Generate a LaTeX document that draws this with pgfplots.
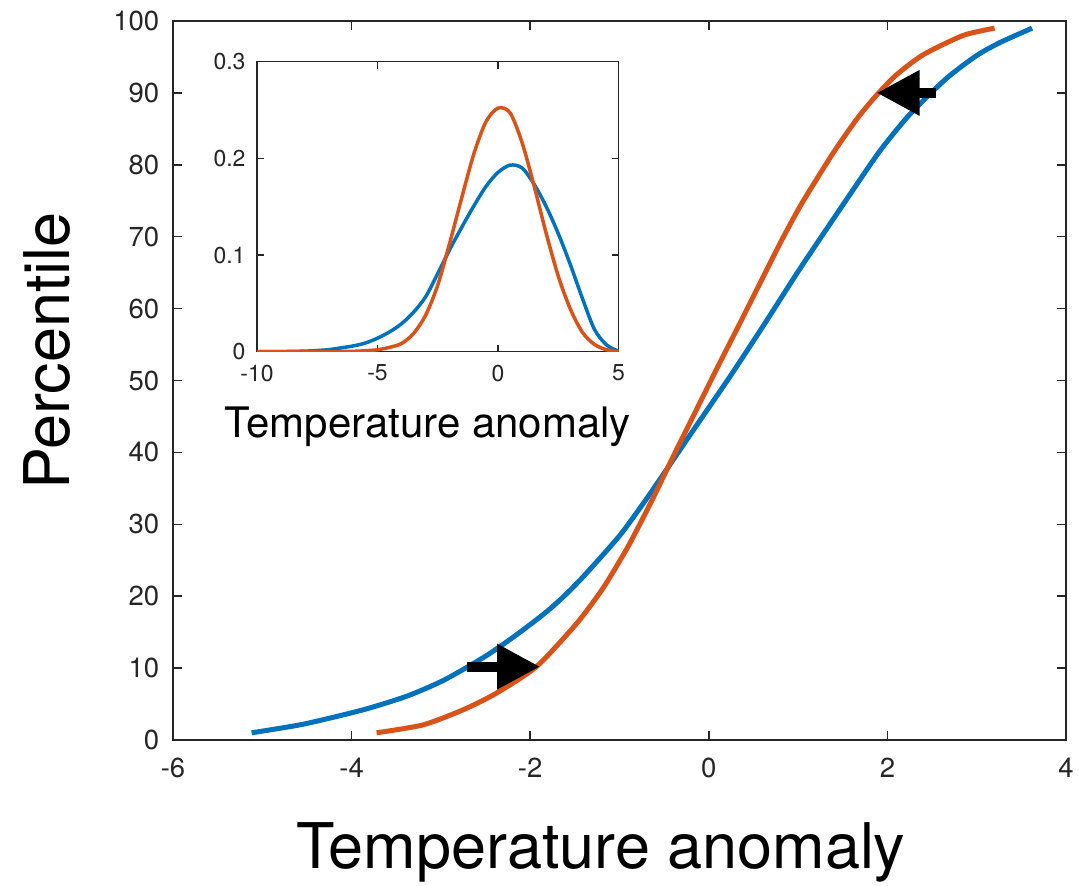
\documentclass[border=0pt]{standalone}
\usepackage{fontspec}
\setmainfont{TeX Gyre Heros}
\usepackage{pgfplots}
\pgfplotsset{compat=1.18}
\usetikzlibrary{arrows.meta}
\definecolor{mblue}{rgb}{0,0.447,0.741}
\definecolor{morange}{rgb}{0.85,0.325,0.098}
\definecolor{axgray}{rgb}{0.15,0.15,0.15}
\begin{document}
\begin{tikzpicture}
\useasboundingbox (-86.5pt,-73pt) rectangle (453pt,370pt);
\begin{axis}[
  at={(0pt,0pt)}, anchor=south west,
  scale only axis, width=446.5pt, height=359.5pt,
  xmin=-6, xmax=4, ymin=0, ymax=100,
  xtick={-6,-4,-2,0,2,4}, ytick={0,10,20,30,40,50,60,70,80,90,100},
  axis line style={axgray, line width=0.75pt},
  tick style={axgray, line width=0.75pt},
  major tick length=4.5pt,
  tick align=inside,
  /pgf/number format/assume math mode=true,
  ticklabel style={font=\fontsize{13.75}{16}\selectfont, text=axgray},
  xticklabel style={yshift=-5.5pt},
  yticklabel style={xshift=-3.4pt},
  xlabel={Temperature anomaly},
  ylabel={Percentile},
  label style={font=\fontsize{31.5}{36}\selectfont},
  xlabel style={at={(axis description cs:0.479,-0.156)}, anchor=center},
  ylabel style={at={(axis description cs:-0.141,0.541)}, anchor=center, rotate=0},
]
\addplot[mblue, line width=2.5pt, smooth, tension=0.4] coordinates {
(-5.12,1.0) (-4.54,2.2) (-3.87,4.2) (-3.38,6.1) (-2.97,8.3) (-2.52,11.5)
(-2.19,14.3) (-1.85,17.5) (-1.63,19.9) (-1.40,22.8) (-1.00,28.4) (-0.70,33.5)
(-0.43,38.4) (-0.14,43.7) (0.24,50.6) (0.61,57.6) (0.95,64.2) (1.12,67.4)
(1.56,75.5) (1.92,82.0) (2.25,87.0) (2.66,92.0) (3.00,95.2) (3.26,97.0) (3.62,99.0)
};
\addplot[morange, line width=2.5pt, smooth, tension=0.4] coordinates {
(-3.72,1.0) (-3.20,2.1) (-2.75,4.2) (-2.38,6.5) (-1.93,10.2) (-1.48,16.2)
(-1.18,21.2) (-0.90,27.0) (-0.65,33.0) (-0.40,39.4) (-0.14,45.9) (0.10,51.9)
(0.35,58.0) (0.60,64.2) (0.82,69.6) (1.04,74.6) (1.39,81.6) (1.66,86.4)
(1.88,89.7) (2.10,92.5) (2.40,95.3) (2.85,98.0) (3.20,99.0)
};
\draw[black, line width=5pt, -{Triangle[length=21.5pt,width=21.5pt]}] (axis cs:-2.71,10.2) -- (axis cs:-1.89,10.2);
\draw[black, line width=5pt, -{Triangle[length=21.5pt,width=21.5pt]}] (axis cs:2.54,90) -- (axis cs:1.88,90);
\end{axis}
\begin{axis}[
  at={(42pt,194.15pt)}, anchor=south west,
  scale only axis, width=180.8pt, height=145pt,
  xmin=-10, xmax=5, ymin=0, ymax=0.3,
  xtick={-10,-5,0,5}, ytick={0,0.1,0.2,0.3},
  axis background/.style={fill=white},
  axis line style={axgray, line width=0.6pt},
  tick style={axgray, line width=0.6pt},
  major tick length=3.5pt,
  tick align=inside,
  /pgf/number format/assume math mode=true,
  ticklabel style={font=\fontsize{11.5}{14}\selectfont, text=axgray},
  xticklabel style={yshift=-3pt},
  yticklabel style={xshift=-2.2pt},
  xlabel={Temperature anomaly},
  label style={font=\fontsize{21}{25}\selectfont},
  xlabel style={at={(axis description cs:0.472,-0.258)}, anchor=center},
]
\addplot[mblue, line width=1.75pt, smooth] coordinates {
(-10,0) (-9,0.0001) (-8,0.0006) (-7.5,0.0012) (-7,0.0022) (-6.5,0.0040)
(-6,0.0060) (-5.5,0.0090) (-5,0.0140) (-4.5,0.0205) (-4,0.0290) (-3.5,0.0410)
(-3,0.0570) (-2.5,0.0810) (-2,0.1060) (-1.5,0.1290) (-1,0.1510) (-0.5,0.1710)
(0,0.1855) (0.5,0.1930) (1,0.1900) (1.5,0.1730) (2,0.1500) (2.5,0.1220)
(3,0.0900) (3.5,0.0550) (4,0.0230) (4.5,0.0070) (5,0.0005)
};
\addplot[morange, line width=1.75pt, smooth] coordinates {
(-10,0) (-7,0.0001) (-6,0.0004) (-5.5,0.0010) (-5,0.0020) (-4.5,0.0045)
(-4,0.0085) (-3.5,0.0190) (-3,0.0380) (-2.5,0.0690) (-2,0.1130) (-1.5,0.1600)
(-1,0.2050) (-0.5,0.2380) (0,0.2520) (0.5,0.2470) (1,0.2160) (1.5,0.1710)
(2,0.1220) (2.5,0.0780) (3,0.0440) (3.5,0.0200) (4,0.0075) (4.5,0.0020) (5,0)
};
\end{axis}
\end{tikzpicture}
\end{document}
